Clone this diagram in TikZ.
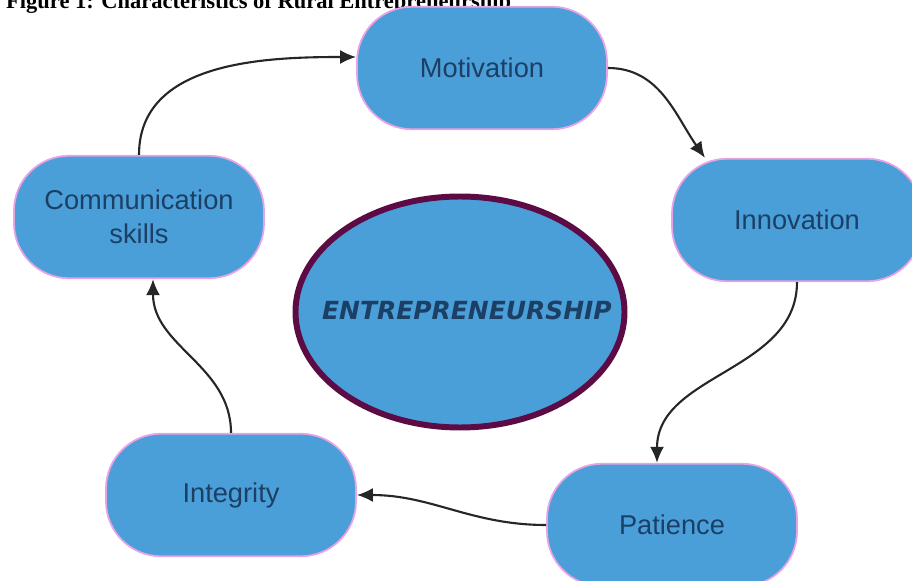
\documentclass[tikz,border=0pt]{standalone}
\usepackage{fontspec}
\setmainfont{Liberation Serif}
\setsansfont{Liberation Sans}
\newfontfamily\heavyfont{DejaVu Sans}
\usetikzlibrary{arrows.meta,shapes.geometric}
\definecolor{boxblue}{HTML}{4A9FD8}
\definecolor{boxedge}{HTML}{E8A2E6}
\definecolor{labelnavy}{HTML}{1C3F66}
\definecolor{ringpurple}{HTML}{5C0B45}
\begin{document}
\begin{tikzpicture}[>={Latex[length=3.2mm,width=2.8mm]},
    trait/.style={draw=boxedge, line width=1pt, fill=boxblue, rounded corners=1.1cm,
        minimum width=5cm, minimum height=2.45cm, text=labelnavy, align=center,
        font=\sffamily\fontsize{15.5}{19.5}\selectfont},
    core/.style={ellipse, draw=ringpurple, line width=3.4pt, fill=boxblue,
        minimum width=6.58cm, minimum height=4.62cm},
    flow/.style={->, line width=1.2pt, draw=black!85}]
\useasboundingbox (0,0) rectangle (18.24,11.6);
\node (title) at (0,11.42)[anchor=base west, font=\bfseries\fontsize{12.8}{14}\selectfont]
    {Figure 1: Characteristics of Rural Entrepreneurship};

% the five traits round the circle
\node[trait] (mot) at (9.64,10.24){Motivation};
\node[trait] (inn) at (15.94,7.2){Innovation};
\node[trait] (pat) at (13.44,1.1){Patience};
\node[trait] (integ) at (4.62,1.7){Integrity};
\node[trait] (comm) at (2.78,7.26){Communication\\skills};

% centre
\node[core] (hub) at (9.2,5.36){};
\node (hublabel) at (9.34,5.4)[text=labelnavy, font=\heavyfont\bfseries\itshape\fontsize{14.2}{16}\selectfont]{ENTREPRENEURSHIP};

\draw[flow] (comm.north) to[out=90, in=180] ([yshift=0.22cm]mot.west);
\draw[flow] (mot.east) to[out=0, in=125] ([xshift=-1.84cm]inn.north);
\draw[flow] (inn.south) to[out=-90, in=90] ([xshift=-0.3cm]pat.north);
\draw[flow] (pat.west) to[out=180, in=0] (integ.east);
\draw[flow] (integ.north) to[out=90, in=-90] ([xshift=0.28cm]comm.south);
\end{tikzpicture}
\end{document}
